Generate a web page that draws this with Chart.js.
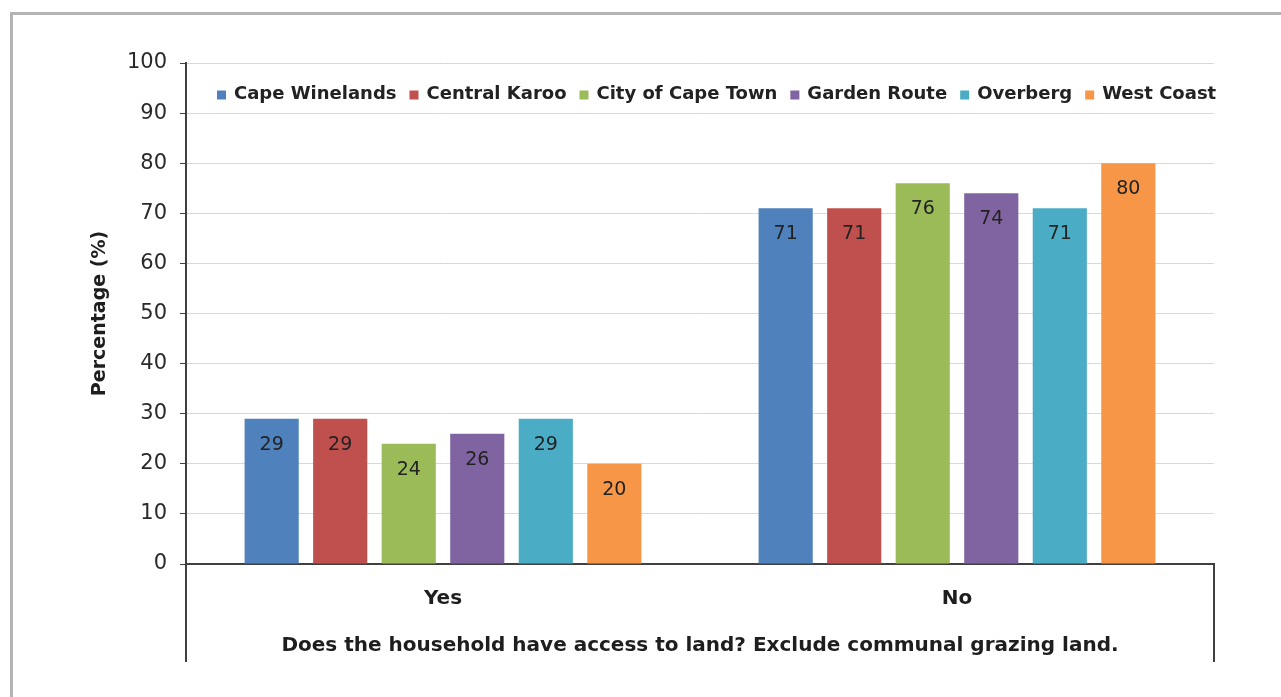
<!DOCTYPE html>
<html>
<head>
<meta charset="utf-8">
<title>Access to land by district</title>
<script src="https://cdn.jsdelivr.net/npm/chart.js@4.4.1/dist/chart.umd.min.js"></script>
<style>
    html, body { margin: 0; padding: 0; background: #fff; overflow: hidden; }
    #frame {
        position: absolute; left: 10px; top: 12px; width: 1300px; height: 720px;
        border-left: 3px solid #b4b4b4; border-top: 3px solid #b4b4b4;
    }
    #chart { position: absolute; left: 0; top: 0; }
</style>
</head>
<body>
<div id="frame"></div>
<canvas id="chart" width="1281" height="697"></canvas>
<script>
// --- DATA ---
const categories = ['Yes', 'No'];
const districts = ['Cape Winelands', 'Central Karoo', 'City of Cape Town', 'Garden Route', 'Overberg', 'West Coast'];

const capeWinelands = [29, 71];
const centralKaroo = [29, 71];
const cityOfCapeTown = [24, 76];
const gardenRoute = [26, 74];
const overberg = [29, 71];
const westCoast = [20, 80];

const yMax = 100;
const yStep = 10;

const xTitle = 'Does the household have access to land? Exclude communal grazing land.';
const yTitle = 'Percentage (%)';

// --- STYLE ---
const colors = ['#4f81bd', '#c0504d', '#9bbb59', '#8064a2', '#4bacc6', '#f79646'];
const FONT = '"DejaVu Sans", sans-serif';
const axisColor = '#404040';

const seriesValues = [capeWinelands, centralKaroo, cityOfCapeTown, gardenRoute, overberg, westCoast];

// Value labels just inside the top of each bar
const barLabels = {
    id: 'barLabels',
    afterDatasetsDraw(chart) {
        const ctx = chart.ctx;
        ctx.save();
        ctx.font = '19px ' + FONT;
        ctx.fillStyle = '#222';
        ctx.textAlign = 'center';
        ctx.textBaseline = 'middle';
        chart.data.datasets.forEach((ds, i) => {
            chart.getDatasetMeta(i).data.forEach((bar, j) => {
                ctx.fillText(ds.data[j], bar.x, bar.y + 26);
            });
        });
        ctx.restore();
    }
};

// Legend row drawn inside the plot area, above the bars
const insideLegend = {
    id: 'insideLegend',
    afterDraw(chart) {
        const ctx = chart.ctx;
        const area = chart.chartArea;
        const box = 9, textGap = 8, itemGap = 13;
        ctx.save();
        ctx.font = 'bold 18px ' + FONT;
        ctx.textBaseline = 'middle';
        ctx.textAlign = 'left';
        let x = area.left + 31;
        const y = area.top + 31;
        chart.data.datasets.forEach(ds => {
            ctx.fillStyle = ds.backgroundColor;
            ctx.fillRect(x, y - box / 2 + 1, box, box);
            x += box + textGap;
            ctx.fillStyle = '#222';
            ctx.fillText(ds.label, x, y);
            x += ctx.measureText(ds.label).width + itemGap;
        });
        ctx.restore();
    }
};

// Category axis frame: side lines dropping below the axis, around the labels and title
const axisFrame = {
    id: 'axisFrame',
    afterDraw(chart) {
        const ctx = chart.ctx;
        const xs = chart.scales.x;
        ctx.save();
        ctx.strokeStyle = axisColor;
        ctx.lineWidth = 2;
        ctx.beginPath();
        [xs.left, xs.right].forEach(px => {
            ctx.moveTo(px, xs.top);
            ctx.lineTo(px, chart.height - 35);
        });
        ctx.stroke();
        ctx.restore();
    }
};

const ctx = document.getElementById('chart').getContext('2d');

new Chart(ctx, {
    type: 'bar',
    data: {
        labels: categories,
        datasets: districts.map((name, i) => ({
            label: name,
            data: seriesValues[i],
            backgroundColor: colors[i],
            borderWidth: 0,
            barPercentage: 0.79,
            categoryPercentage: 0.8
        }))
    },
    options: {
        responsive: false,
        animation: false,
        devicePixelRatio: 1,
        layout: { padding: { left: 80, right: 67, top: 63, bottom: 0 } },
        plugins: {
            legend: { display: false },
            tooltip: { enabled: false }
        },
        scales: {
            x: {
                afterFit: scale => { scale.height = 133; },
                grid: { display: false, drawTicks: false },
                border: { display: true, color: axisColor, width: 2 },
                ticks: {
                    padding: 23,
                    color: '#1e1e1e',
                    font: { family: FONT, size: 20, weight: 'bold' }
                },
                title: {
                    display: true,
                    text: xTitle,
                    color: '#1e1e1e',
                    padding: { top: 0, bottom: 39 },
                    font: { family: FONT, size: 20, weight: 'bold' }
                }
            },
            y: {
                min: 0,
                max: yMax,
                afterFit: scale => { scale.width = 106; },
                grid: {
                    color: '#d9d9d9',
                    lineWidth: 1,
                    tickLength: 6,
                    tickColor: axisColor
                },
                border: { display: true, color: axisColor, width: 2 },
                ticks: {
                    stepSize: yStep,
                    padding: 13,
                    color: '#2a2a2a',
                    font: { family: FONT, size: 21 }
                },
                title: {
                    display: true,
                    text: yTitle,
                    color: '#1e1e1e',
                    padding: { top: 9, bottom: 0 },
                    font: { family: FONT, size: 19, weight: 'bold' }
                }
            }
        }
    },
    plugins: [barLabels, insideLegend, axisFrame]
});
</script>
</body>
</html>
